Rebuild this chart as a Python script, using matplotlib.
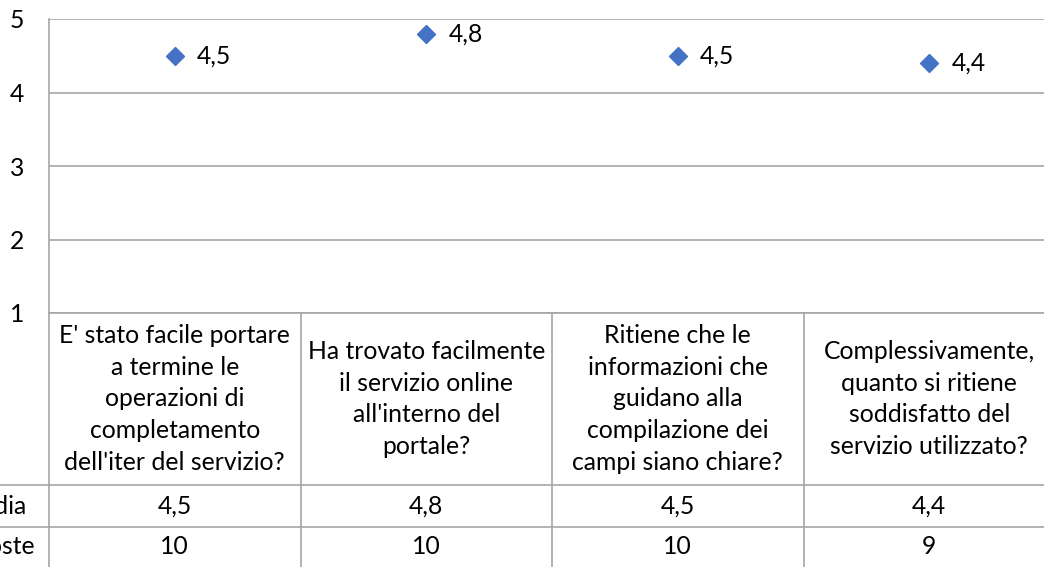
import matplotlib.pyplot as plt
from matplotlib.lines import Line2D
from matplotlib.transforms import blended_transform_factory

plt.rcParams['font.family'] = ['Lato', 'DejaVu Sans']

categorie = [
    "E' stato facile portare\na termine le\noperazioni di\ncompletamento\ndell'iter del servizio?",
    "Ha trovato facilmente\nil servizio online\nall'interno del\nportale?",
    "Ritiene che le\ninformazioni che\nguidano alla\ncompilazione dei\ncampi siano chiare?",
    "Complessivamente,\nquanto si ritiene\nsoddisfatto del\nservizio utilizzato?",
]
media = [4.5, 4.8, 4.5, 4.4]
risposte = [10, 10, 10, 9]
righe = ["Media", "Risposte"]
y_ticks = [1, 2, 3, 4, 5]

W, H = 1044, 567
grid_col = "#a6a6a6"
fs = 17.8

fig = plt.figure(figsize=(W / 100, H / 100), dpi=100)
# plot area in pixels: left 49, right ~1055 (cut off), top 19, bottom 313
ax = fig.add_axes([49 / W, (H - 313) / H, (1055 - 49) / W, (313 - 19) / H])
x = list(range(len(media)))
ax.set_xlim(-0.5, len(media) - 0.5)
ax.set_ylim(1, 5)
ax.set_yticks(y_ticks)
ax.set_yticklabels([str(v) for v in y_ticks], fontsize=fs)
ax.tick_params(axis='y', length=0, pad=23)
for lab in ax.get_yticklabels():
    lab.set_horizontalalignment('center')
ax.set_xticks([])
ax.yaxis.grid(True, color=grid_col, linewidth=1.2)
ax.set_axisbelow(True)
for s in ["top", "right", "bottom"]:
    ax.spines[s].set_visible(False)
ax.spines["left"].set_color(grid_col)
ax.spines["left"].set_linewidth(1.2)

ax.plot(x, media, linestyle='none', marker='D', markersize=9.5,
        color='#4472C4', clip_on=False, zorder=3)
for xi, v in zip(x, media):
    ax.annotate(f"{v:.1f}".replace('.', ','), (xi, v), xytext=(16, 0),
                textcoords='offset points', va='center', ha='left', fontsize=fs)

# data table below the plot
tr = blended_transform_factory(ax.transData, fig.transFigure)
row_y = [313, 485, 527, 567]  # pixel rows of table lines
fy = [1 - p / H for p in row_y]

# horizontal lines
fig.lines.append(Line2D([49 / W, 1], [fy[0], fy[0]], transform=fig.transFigure,
                        color=grid_col, lw=1.2))
for yy in fy[1:3]:
    fig.lines.append(Line2D([0, 1], [yy, yy], transform=fig.transFigure,
                            color=grid_col, lw=1.2))
# vertical lines
fig.lines.append(Line2D([49 / W, 49 / W], [fy[0], 0], transform=fig.transFigure,
                        color=grid_col, lw=1.2))
for xi in x[1:]:
    fig.lines.append(Line2D([xi - 0.5, xi - 0.5], [fy[0], 0], transform=tr,
                            color=grid_col, lw=1.2))

for xi, cat in zip(x, categorie):
    fig.text(xi, (fy[0] + fy[1]) / 2, cat, transform=tr, ha='center', va='center',
             fontsize=fs, linespacing=1.46)
for xi, v, n in zip(x, media, risposte):
    fig.text(xi, (fy[1] + fy[2]) / 2, f"{v:.1f}".replace('.', ','), transform=tr,
             ha='center', va='center', fontsize=fs)
    fig.text(xi, (fy[2] + fy[3]) / 2, str(n), transform=tr,
             ha='center', va='center', fontsize=fs)

fig.text(27 / W, (fy[1] + fy[2]) / 2, righe[0], ha='right', va='center', fontsize=fs)
fig.text(35 / W, (fy[2] + fy[3]) / 2, righe[1], ha='right', va='center', fontsize=fs)

fig.savefig("out.png", dpi=100)
